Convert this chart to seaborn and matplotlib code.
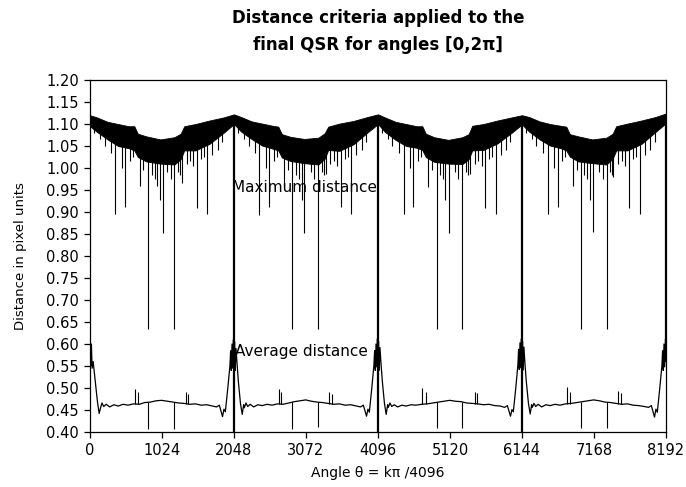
import numpy as np
import pandas as pd
import matplotlib
matplotlib.use("Agg")
import matplotlib.pyplot as plt
import seaborn as sns

# Angle index k (theta = k*pi/4096) and values

# Maximum distance: the dense band is kept as its upper / lower envelope
max_k = [0, 100, 250, 400, 550, 630, 680, 800, 1000, 1200, 1290, 1340, 1500, 1700, 1900, 2048,
         2148, 2298, 2448, 2598, 2678, 2728, 2848, 3048, 3248, 3338, 3388, 3548, 3748, 3948, 4096,
         4196, 4346, 4496, 4646, 4726, 4776, 4896, 5096, 5296, 5386, 5436, 5596, 5796, 5996, 6144,
         6244, 6394, 6544, 6694, 6774, 6824, 6944, 7144, 7344, 7434, 7484, 7644, 7844, 8044, 8192]
max_hi = [1.120, 1.115, 1.105, 1.100, 1.095, 1.095, 1.078, 1.072, 1.065, 1.070, 1.078, 1.095, 1.100, 1.108, 1.115, 1.122,
          1.116, 1.106, 1.101, 1.096, 1.094, 1.077, 1.071, 1.066, 1.069, 1.079, 1.094, 1.101, 1.107, 1.116, 1.122,
          1.115, 1.105, 1.100, 1.095, 1.095, 1.078, 1.070, 1.064, 1.070, 1.077, 1.096, 1.100, 1.108, 1.115, 1.120,
          1.116, 1.106, 1.100, 1.096, 1.094, 1.077, 1.072, 1.065, 1.069, 1.078, 1.095, 1.101, 1.108, 1.116, 1.124]
max_lo = [1.095, 1.082, 1.065, 1.050, 1.045, 1.040, 1.025, 1.015, 1.010, 1.008, 1.020, 1.040, 1.040, 1.055, 1.080, 1.100,
          1.083, 1.066, 1.051, 1.044, 1.040, 1.024, 1.016, 1.011, 1.008, 1.021, 1.041, 1.039, 1.054, 1.081, 1.100,
          1.082, 1.064, 1.050, 1.046, 1.041, 1.025, 1.014, 1.010, 1.009, 1.020, 1.040, 1.041, 1.056, 1.080, 1.099,
          1.083, 1.065, 1.051, 1.045, 1.040, 1.026, 1.015, 1.011, 1.008, 1.021, 1.040, 1.040, 1.055, 1.082, 1.102]

# downward spikes out of the maximum-distance band (k, lowest value)
spike_k = [60, 142, 210, 300, 356, 450, 498, 568, 611, 711, 760, 821, 880, 924, 960, 996, 1043, 1090, 1150, 1199,
           1250, 1280, 1308, 1380, 1422, 1470, 1522, 1580, 1620, 1664, 1740, 1825, 1880,
           2110, 2190, 2260, 2350, 2404, 2500, 2546, 2616, 2660, 2760, 2810, 2871, 2930, 2972, 3010, 3050, 3140, 3190,
           3241, 3300, 3330, 3357, 3420, 3470, 3520, 3570, 3630, 3670, 3712, 3790, 3873, 3930,
           4160, 4238, 4300, 4400, 4466, 4548, 4594, 4664, 4710, 4807, 4860, 4931, 4980, 5020, 5049, 5100, 5190, 5240,
           5295, 5350, 5376, 5404, 5470, 5518, 5570, 5618, 5678, 5720, 5774, 5840, 5921, 5980,
           6200, 6286, 6350, 6450, 6514, 6596, 6656, 6712, 6760, 6870, 6920, 6979, 7030, 7068, 7111, 7160, 7238, 7290,
           7349, 7400, 7424, 7438, 7510, 7566, 7610, 7666, 7726, 7770, 7822, 7890, 7969, 8030]
spike_min = [1.080, 1.065, 1.050, 1.035, 0.895, 1.000, 0.912, 1.015, 1.025, 0.959, 0.995, 0.634, 0.985, 0.976, 0.960, 0.927, 0.852, 0.992, 0.975, 0.634,
             0.990, 0.985, 0.966, 1.010, 1.015, 1.005, 0.909, 1.020, 1.025, 0.895, 1.030, 1.040, 1.060,
             1.080, 1.065, 1.050, 1.035, 0.893, 1.000, 0.912, 1.015, 1.025, 0.958, 0.995, 0.634, 0.985, 0.976, 0.927, 0.852, 0.990, 0.975,
             0.634, 0.990, 0.985, 0.986, 1.010, 1.015, 1.005, 0.912, 1.020, 1.025, 0.895, 1.030, 1.040, 1.060,
             1.080, 1.065, 1.050, 1.035, 0.895, 1.000, 0.912, 1.015, 1.025, 0.957, 0.995, 0.634, 0.985, 0.976, 0.927, 0.852, 0.990, 0.975,
             0.634, 0.990, 0.985, 0.986, 1.010, 1.015, 1.005, 0.910, 1.020, 1.025, 0.895, 1.030, 1.040, 1.060,
             1.080, 1.065, 1.050, 1.035, 0.895, 1.000, 0.912, 1.015, 1.025, 0.960, 0.995, 0.634, 0.985, 0.976, 0.927, 0.855, 0.990, 0.975,
             0.634, 0.990, 0.985, 0.980, 1.010, 1.015, 1.005, 0.910, 1.020, 1.025, 0.895, 1.030, 1.040, 1.060]
# the maximum curve collapses at the multiples of pi/2
drop_k = [2048, 4096, 6144, 8192]
drop_min = [0.40, 0.40, 0.40, 0.56]

# Average distance
avg_k = [0, 10, 20, 30, 45, 75, 105, 130, 150, 170, 195, 230, 280, 340, 400, 470, 540, 620, 700, 780,
         860, 940, 1020, 1100, 1180, 1260, 1340, 1420, 1500, 1580, 1660, 1740, 1800, 1840, 1885, 1905, 1925, 1960, 1990, 2000,
         2010, 2020, 2030, 2040, 2048, 2056, 2066, 2076, 2090, 2110, 2140, 2165, 2185,
         2195, 2218, 2243, 2278, 2328, 2388, 2448, 2518, 2588, 2668, 2748, 2828, 2908, 2988, 3068, 3148, 3228, 3308,
         3388, 3468, 3548, 3628, 3708, 3788, 3848, 3888, 3933, 3953, 3973, 4008, 4038, 4048, 4058, 4068, 4078, 4088,
         4096, 4104, 4114, 4124, 4138, 4158, 4188, 4213, 4233,
         4243, 4266, 4291, 4326, 4376, 4436, 4496, 4566, 4636, 4716, 4796, 4876, 4956, 5036, 5116, 5196, 5276, 5356,
         5436, 5516, 5596, 5676, 5756, 5836, 5896, 5936, 5981, 6001, 6021, 6056, 6086, 6096, 6106, 6116, 6126, 6136,
         6144, 6152, 6162, 6172, 6186, 6206, 6236, 6261, 6281,
         6291, 6314, 6339, 6374, 6424, 6484, 6544, 6614, 6684, 6764, 6844, 6924, 7004, 7084, 7164, 7244, 7324, 7404,
         7484, 7564, 7644, 7724, 7804, 7884, 7944, 7984, 8029, 8049, 8069, 8104, 8134, 8144, 8154, 8164, 8174, 8184, 8192]
avg_v = [0.620, 0.550, 0.600, 0.545, 0.560, 0.515, 0.470, 0.442, 0.455, 0.466, 0.458, 0.463, 0.457, 0.462, 0.459, 0.463, 0.461, 0.464, 0.463, 0.467,
         0.468, 0.471, 0.472, 0.470, 0.468, 0.466, 0.465, 0.463, 0.464, 0.461, 0.462, 0.459, 0.457, 0.461, 0.435, 0.452, 0.446, 0.500, 0.550, 0.585,
         0.540, 0.600, 0.545, 0.610, 0.560, 0.605, 0.540, 0.590, 0.560, 0.515, 0.465, 0.440, 0.462,
         0.455, 0.466, 0.458, 0.463, 0.457, 0.462, 0.460, 0.463, 0.461, 0.464, 0.463, 0.466, 0.469, 0.471, 0.473, 0.470, 0.468, 0.467,
         0.465, 0.463, 0.464, 0.461, 0.462, 0.459, 0.457, 0.461, 0.436, 0.452, 0.445, 0.500, 0.552, 0.585, 0.540, 0.600, 0.548, 0.612,
         0.560, 0.606, 0.540, 0.592, 0.558, 0.515, 0.465, 0.440, 0.462,
         0.456, 0.466, 0.458, 0.462, 0.457, 0.461, 0.459, 0.462, 0.461, 0.463, 0.464, 0.466, 0.468, 0.470, 0.472, 0.470, 0.469, 0.466,
         0.465, 0.464, 0.462, 0.463, 0.460, 0.459, 0.456, 0.460, 0.436, 0.451, 0.446, 0.500, 0.553, 0.588, 0.542, 0.603, 0.546, 0.612,
         0.562, 0.606, 0.541, 0.593, 0.556, 0.514, 0.465, 0.441, 0.462,
         0.456, 0.465, 0.458, 0.463, 0.457, 0.462, 0.460, 0.463, 0.461, 0.464, 0.465, 0.467, 0.469, 0.471, 0.473, 0.471, 0.468, 0.467,
         0.465, 0.463, 0.464, 0.461, 0.460, 0.458, 0.456, 0.460, 0.434, 0.452, 0.445, 0.500, 0.550, 0.585, 0.540, 0.600, 0.548, 0.610, 0.620]

# short spikes on the average curve
avg_up_k = [640, 680, 1365, 1394, 2684, 2713, 3399, 3437, 4722, 4774, 5476, 5504, 6780, 6827, 7505, 7547]
avg_up_max = [0.497, 0.492, 0.490, 0.487, 0.497, 0.492, 0.491, 0.487, 0.500, 0.492, 0.491, 0.488, 0.503, 0.492, 0.493, 0.488]
avg_dn_k = [821, 1199, 2871, 3241, 4931, 5295, 6979, 7349]
avg_dn_min = [0.407, 0.407, 0.407, 0.412, 0.410, 0.410, 0.410, 0.410]

x_ticks = [0, 1024, 2048, 3072, 4096, 5120, 6144, 7168, 8192]
y_ticks = [0.40, 0.45, 0.50, 0.55, 0.60, 0.65, 0.70, 0.75, 0.80, 0.85, 0.90, 0.95, 1.00, 1.05, 1.10, 1.15, 1.20]

sns.set_style("ticks")
plt.rcParams["font.family"] = ["DejaVu Sans"]
plt.rcParams["text.color"] = "black"
plt.rcParams["axes.labelcolor"] = "black"

fig = plt.figure(figsize=(6.86, 4.87), dpi=100)
ax = fig.add_axes([0.1312, 0.1129, 0.8396, 0.7228])

# maximum distance band and its spikes
ax.fill_between(max_k, max_lo, max_hi, color="black", linewidth=0.6)
spike_top = np.interp(spike_k, max_k, max_lo) + 0.005
ax.vlines(spike_k, spike_min, spike_top, color="black", linewidth=0.8)
drop_top = np.interp(drop_k, max_k, max_lo)
ax.vlines(drop_k, drop_min, drop_top, color="black", linewidth=1.6)

# average distance curve
avg_df = pd.DataFrame({"k": avg_k, "dist": avg_v})
sns.lineplot(data=avg_df, x="k", y="dist", ax=ax, color="black", linewidth=0.9,
             estimator=None, sort=False)
ax.vlines(avg_up_k, np.interp(avg_up_k, avg_k, avg_v), avg_up_max, color="black", linewidth=0.8)
ax.vlines(avg_dn_k, avg_dn_min, np.interp(avg_dn_k, avg_k, avg_v), color="black", linewidth=0.8)

ax.text(2020, 0.955, "Maximum distance", fontsize=11, va="center", ha="left", color="black")
ax.text(2062, 0.582, "Average distance", fontsize=11, va="center", ha="left", color="black")

ax.set_xlim(0, 8192)
ax.set_ylim(0.40, 1.20)
ax.set_xticks(x_ticks)
ax.set_yticks(y_ticks)
ax.set_yticklabels([f"{v:.2f}" for v in y_ticks])
ax.tick_params(axis="both", direction="out", length=4, width=0.9, labelsize=10.5,
               colors="black", pad=4)
for side in ["top", "right", "left", "bottom"]:
    ax.spines[side].set_visible(True)
    ax.spines[side].set_color("black")
    ax.spines[side].set_linewidth(0.9)

ax.set_xlabel("Angle \u03b8 = k\u03c0 /4096", fontsize=10, labelpad=6, color="black")
ax.set_ylabel("Distance in pixel units", fontsize=9.5, labelpad=14, color="black")

fig.text(0.551, 1 - 18 / 487, "Distance criteria applied to the", ha="center", va="center",
         fontsize=12, fontweight="bold", color="black")
fig.text(0.551, 1 - 45 / 487, "final QSR for angles [0,2\u03c0]", ha="center", va="center",
         fontsize=12, fontweight="bold", color="black")

fig.savefig("out.png", dpi=100, facecolor="white")
plt.close(fig)
